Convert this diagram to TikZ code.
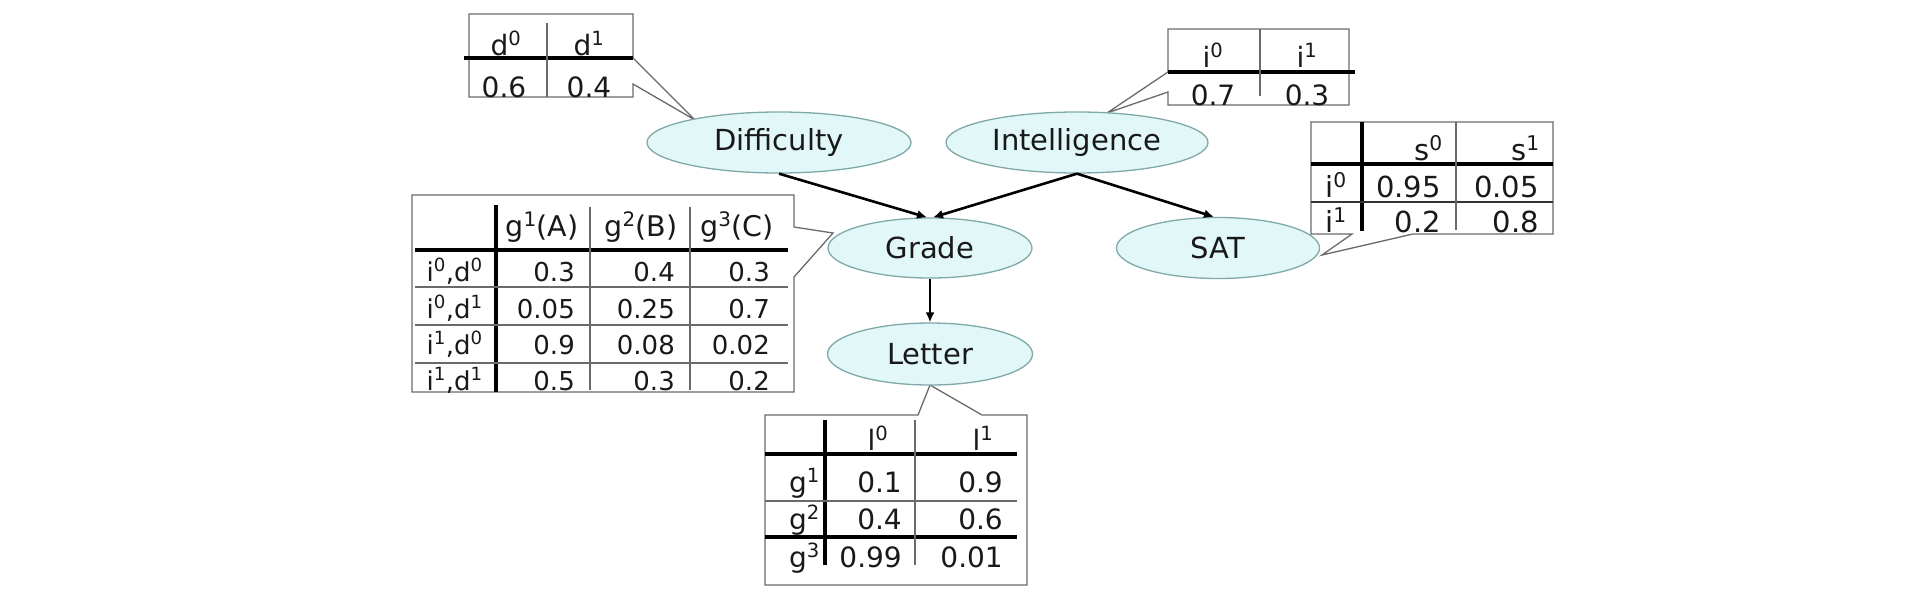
\documentclass[tikz,border=0pt]{standalone}
\usepackage{fontspec}
\setmainfont{DejaVu Sans}
\usetikzlibrary{shapes.geometric,arrows.meta}
\definecolor{bnfill}{HTML}{E2F8F8}
\definecolor{bnline}{HTML}{7FA8A8}
\definecolor{tline}{HTML}{6A6A6A}
\newcommand\spx[1]{\textsuperscript{#1}}
\newcommand\cE[4]{\node[tcell,anchor=base east] (#1) at (#2,#3) {#4};}
\newcommand\cC[4]{\node[tcell,anchor=base] (#1) at (#2,#3) {#4};}
\begin{document}
\begin{tikzpicture}[x=1pt,y=-1pt,
  bn/.style={ellipse,draw=bnline,fill=bnfill,line width=1.3pt,inner sep=0pt,
             font=\fontsize{29}{33}\selectfont,text=black!90},
  arr/.style={line width=2.6pt,-{Latex[length=10pt,width=9pt]}},
  callout/.style={draw=tline,line width=1.3pt,line join=miter},
  thinl/.style={draw=tline,line width=1.3pt},
  thickl/.style={draw=black,line width=3.5pt},
  midl/.style={draw=black!80,line width=2.6pt},
  tcell/.style={inner sep=0pt,text=black!90,font=\fontsize{28}{32}\selectfont},
  tabG/.style={tcell/.append style={font=\fontsize{26}{30}\selectfont}},
  tabS/.style={tcell/.append style={font=\fontsize{29}{33}\selectfont}},
  ghead/.style={font=\fontsize{28.5}{32}\selectfont}
]
\fill[white] (0,0) rectangle (1922,598);
\useasboundingbox (0,0) rectangle (1922,598);

% callout tips
\coordinate (dtip) at (695,120);
\coordinate (itip) at (1107,113);
\coordinate (gtip) at (833,233);
\coordinate (stip) at (1322,255);
\coordinate (ltip) at (930,385);

% ---- Difficulty CPD
\draw[callout] (469,14) -- (633,14) -- (633,58) -- (dtip) -- (633,84) -- (633,97) -- (469,97) -- cycle;
\draw[thickl] (464,58) -- (633,58);
\draw[thinl] (547,23) -- (547,97);
\cC{dh0}{506}{55}{d\spx{0}}
\cC{dh1}{589}{55}{d\spx{1}}
\cC{dv0}{504}{97}{0.6}
\cC{dv1}{589}{97}{0.4}

% ---- Intelligence CPD
\draw[callout] (1168,29) -- (1349,29) -- (1349,105) -- (1168,105) -- (1168,92) -- (itip) -- (1168,72) -- cycle;
\draw[thickl] (1168,72) -- (1355,72);
\draw[thinl] (1260,29) -- (1260,96);
\cC{ih0}{1213}{67}{i\spx{0}}
\cC{ih1}{1307}{67}{i\spx{1}}
\cC{iv0}{1213}{105}{0.7}
\cC{iv1}{1307}{105}{0.3}

% ---- SAT CPD
\begin{scope}[tabS]
\draw[callout] (1311,122) -- (1553,122) -- (1553,234) -- (1413,234) -- (stip) -- (1352,234) -- (1311,234) -- cycle;
\draw[thickl] (1362,122) -- (1362,231);
\draw[thickl] (1311,164) -- (1553,164);
\draw[midl] (1311,202) -- (1553,202);
\draw[thinl] (1456,122) -- (1456,230);
\cE{ss0}{1443}{160}{s\spx{0}}
\cE{ss1}{1540}{160}{s\spx{1}}
\cC{si0}{1336}{197}{i\spx{0}}
\cE{sv00}{1441}{197}{0.95}
\cE{sv01}{1539}{197}{0.05}
\cC{si1}{1336}{232}{i\spx{1}}
\cE{sv10}{1441}{232}{0.2}
\cE{sv11}{1539}{232}{0.8}
\end{scope}

% ---- Grade CPD
\begin{scope}[tabG]
\draw[callout] (412,195) -- (794,195) -- (794,227) -- (gtip) -- (794,277) -- (794,392) -- (412,392) -- cycle;
\draw[thickl] (496,205) -- (496,392);
\draw[thickl] (415,250) -- (788,250);
\draw[thinl] (415,287) -- (788,287);
\draw[thinl] (415,325) -- (788,325);
\draw[thinl] (415,363) -- (788,363);
\draw[thinl] (590,207) -- (590,390);
\draw[thinl] (690,207) -- (690,390);
\node[tcell,ghead,anchor=base] (gh1) at (542,236) {g\spx{1}(A)};
\node[tcell,ghead,anchor=base] (gh2) at (641,236) {g\spx{2}(B)};
\node[tcell,ghead,anchor=base] (gh3) at (737,236) {g\spx{3}(C)};
\cE{gr1}{483}{281}{i\spx{0},d\spx{0}}
\cE{gr2}{483}{318}{i\spx{0},d\spx{1}}
\cE{gr3}{483}{354}{i\spx{1},d\spx{0}}
\cE{gr4}{483}{390}{i\spx{1},d\spx{1}}
\cE{g11}{575}{281}{0.3}
\cE{g12}{675}{281}{0.4}
\cE{g13}{770}{281}{0.3}
\cE{g21}{575}{318}{0.05}
\cE{g22}{675}{318}{0.25}
\cE{g23}{770}{318}{0.7}
\cE{g31}{575}{354}{0.9}
\cE{g32}{675}{354}{0.08}
\cE{g33}{770}{354}{0.02}
\cE{g41}{575}{390}{0.5}
\cE{g42}{675}{390}{0.3}
\cE{g43}{770}{390}{0.2}
\end{scope}

% ---- Letter CPD
\draw[callout] (765,415) -- (918,415) -- (ltip) -- (982,415) -- (1027,415) -- (1027,585) -- (765,585) -- cycle;
\draw[thickl] (825,420) -- (825,565);
\draw[thickl] (765,454) -- (1017,454);
\draw[thinl] (765,501) -- (1017,501);
\draw[thickl] (765,537) -- (1017,537);
\draw[thinl] (915,420) -- (915,565);
\cC{lh0}{878}{450}{l\spx{0}}
\cC{lh1}{983}{450}{l\spx{1}}
\cE{lr1}{820}{492}{g\spx{1}}
\cE{lr2}{820}{529}{g\spx{2}}
\cE{lr3}{820}{567}{g\spx{3}}
\cE{l11}{902}{492}{0.1}
\cE{l12}{1003}{492}{0.9}
\cE{l21}{902}{529}{0.4}
\cE{l22}{1003}{529}{0.6}
\cE{l31}{902}{567}{0.99}
\cE{l32}{1003}{567}{0.01}

% ---- network nodes
\node[bn,minimum width=264pt,minimum height=61pt] (diff)   at (779,142.5) {Difficulty};
\node[bn,minimum width=262pt,minimum height=61pt] (intel)  at (1077,142.5) {Intelligence};
\node[bn,minimum width=204pt,minimum height=60pt] (grade)  at (930,248) {Grade};
\node[bn,minimum width=203pt,minimum height=61pt] (sat)    at (1218,248) {SAT};
\node[bn,minimum width=205pt,minimum height=62pt] (letter) at (930,354) {Letter};

% ---- edges
\draw[arr] (diff.south) -- ([xshift=-3pt]grade.north);
\draw[arr] (intel.south) -- ([xshift=3pt]grade.north);
\draw[arr] (intel.south) -- ([xshift=-4pt]sat.north);
\draw[arr] (grade.south) -- (letter.north);
\end{tikzpicture}
\end{document}
